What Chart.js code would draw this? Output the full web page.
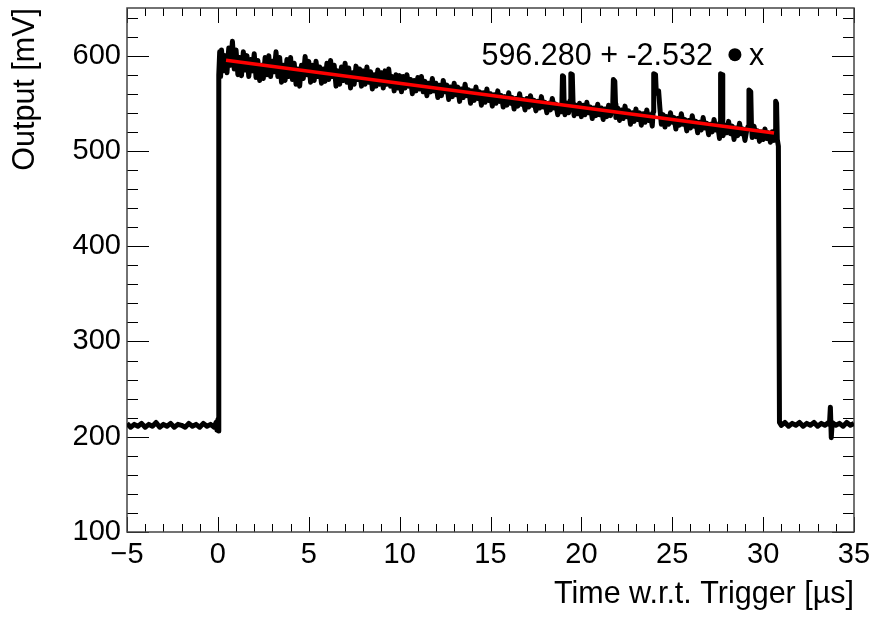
<!DOCTYPE html>
<html>
<head>
<meta charset="utf-8">
<script src="https://cdn.jsdelivr.net/npm/chart.js@4.4.0/dist/chart.umd.min.js"></script>
<style>
  html, body { margin: 0; padding: 0; background: #fff; }
</style>
</head>
<body>
<canvas id="scope" width="875" height="624"></canvas>
<script>
// axis ticks
const xTicks = [-5, 0, 5, 10, 15, 20, 25, 30, 35];
const yTicks = [100, 200, 300, 400, 500, 600];
const xMinorStep = 1;
const yMinorStep = 20;

// baseline before the trigger (time in us, output in mV)
const timeBefore = [-5, -4.8, -4.6, -4.4, -4.2, -4.0, -3.8, -3.6, -3.4, -3.2, -3.0, -2.8, -2.6,
  -2.4, -2.2, -2.0, -1.8, -1.6, -1.4, -1.2, -1.0, -0.8, -0.6, -0.4, -0.2, -0.1, -0.05, 0, 0.02, 0.04];
const voltBefore = [214, 210, 213, 211, 214, 210, 213, 211, 215, 210, 213, 211, 214,
  210, 213, 212, 210, 214, 211, 213, 210, 214, 211, 213, 210, 215, 207, 218, 206, 224];

// the pulse itself
const timePulse = [0.06, 0.1, 0.15,
  0.2, 0.3, 0.4, 0.5, 0.6, 0.7, 0.8, 0.9, 1.0,
  1.1, 1.2, 1.3, 1.4, 1.5, 1.6, 1.7, 1.8, 1.9, 2.0,
  2.1, 2.2, 2.3, 2.4, 2.5, 2.6, 2.7, 2.8, 2.9, 3.0,
  3.1, 3.2, 3.3, 3.4, 3.5, 3.6, 3.7, 3.8, 3.9, 4.0,
  4.1, 4.2, 4.3, 4.4, 4.5, 4.6, 4.7, 4.8, 4.9, 5.0,
  5.1, 5.2, 5.3, 5.4, 5.5, 5.6, 5.7, 5.8, 5.9, 6.0,
  6.1, 6.2, 6.3, 6.4, 6.5, 6.6, 6.7, 6.8, 6.9, 7.0,
  7.1, 7.2, 7.3, 7.4, 7.5, 7.6, 7.7, 7.8, 7.9, 8.0,
  8.1, 8.2, 8.3, 8.4, 8.5, 8.6, 8.7, 8.8, 8.9, 9.0,
  9.1, 9.2, 9.3, 9.4, 9.5, 9.6, 9.7, 9.8, 9.9, 10.0,
  10.1, 10.2, 10.3, 10.4, 10.5, 10.6, 10.7, 10.8, 10.9, 11.0,
  11.1, 11.2, 11.3, 11.4, 11.5, 11.6, 11.7, 11.8, 11.9, 12.0,
  12.1, 12.2, 12.3, 12.4, 12.5, 12.6, 12.7, 12.8, 12.9, 13.0,
  13.1, 13.2, 13.3, 13.4, 13.5, 13.6, 13.7, 13.8, 13.9, 14.0,
  14.1, 14.2, 14.3, 14.4, 14.5, 14.6, 14.7, 14.8, 14.9, 15.0,
  15.1, 15.2, 15.3, 15.4, 15.5, 15.6, 15.7, 15.8, 15.9, 16.0,
  16.1, 16.2, 16.3, 16.4, 16.5, 16.6, 16.7, 16.8, 16.9, 17.0,
  17.1, 17.2, 17.3, 17.4, 17.5, 17.6, 17.7, 17.8, 17.9, 18.0,
  18.1, 18.2, 18.3, 18.4, 18.5, 18.6, 18.7, 18.8, 18.9,
  18.93, 18.96, 19.02, 19.05,
  19.1, 19.2, 19.3, 19.38, 19.42, 19.5, 19.54, 19.6, 19.7, 19.8, 19.9, 20.0,
  20.1, 20.2, 20.3, 20.4, 20.5, 20.6, 20.7, 20.8, 20.9, 21.0,
  21.1, 21.2, 21.3, 21.4, 21.5, 21.6, 21.7, 21.73, 21.76, 21.84, 21.88, 21.9, 22.0,
  22.1, 22.2, 22.3, 22.4, 22.5, 22.6, 22.7, 22.8, 22.9, 23.0,
  23.1, 23.2, 23.3, 23.4, 23.5, 23.6, 23.7, 23.8, 23.9,
  23.95, 23.98, 24.08, 24.12, 24.2, 24.25, 24.32,
  24.4, 24.5, 24.6, 24.7, 24.8, 24.9, 25.0,
  25.1, 25.2, 25.3, 25.4, 25.5, 25.6, 25.7, 25.8, 25.9, 26.0,
  26.1, 26.2, 26.3, 26.4, 26.5, 26.6, 26.7, 26.8, 26.9, 27.0,
  27.1, 27.2, 27.3, 27.4, 27.5, 27.6, 27.63, 27.66, 27.74, 27.78, 27.8, 27.9, 28.0,
  28.1, 28.2, 28.3, 28.4, 28.5, 28.6, 28.7, 28.8, 28.9, 29.0,
  29.1, 29.18, 29.22, 29.32, 29.36, 29.4, 29.5, 29.6, 29.7, 29.8, 29.9, 30.0,
  30.1, 30.2, 30.3, 30.4, 30.5, 30.6, 30.66, 30.69, 30.74, 30.78, 30.84];
const voltPulse = [580, 604, 578,
  606, 584, 600, 582, 608, 590, 615, 586, 606,
  580, 598, 579, 604, 585, 600, 578, 596, 584, 602,
  577, 595, 574, 590, 576, 598, 580, 600, 578, 594,
  583, 604, 578, 598, 572, 590, 574, 596, 578, 598,
  575, 592, 570, 586, 568, 590, 576, 599, 580, 594,
  572, 590, 574, 594, 578, 588, 571, 586, 573, 592,
  575, 595, 578, 590, 568, 584, 570, 588, 574, 592,
  572, 587, 566, 582, 570, 589, 575, 586, 568, 584,
  570, 588, 572, 583, 565, 580, 568, 585, 570, 582,
  566, 584, 570, 586, 568, 578, 563, 580, 566, 579,
  562, 578, 566, 580, 568, 575, 560, 574, 563, 577,
  565, 578, 562, 573, 558, 571, 562, 576, 563, 571,
  556, 569, 558, 574, 562, 569, 554, 567, 557, 571,
  559, 567, 552, 565, 556, 570, 558, 564, 550, 563,
  553, 567, 555, 562, 548, 561, 551, 565, 553, 560,
  547, 559, 550, 563, 552, 558, 546, 557, 548, 561,
  550, 556, 544, 555, 547, 560, 549, 554, 543, 555,
  546, 558, 548, 553, 542, 552, 545, 557, 546, 551,
  540, 550, 543, 555, 545, 549, 538, 548, 541,
  552, 579, 578, 550,
  538, 550, 540, 553, 581, 580, 552, 537, 548, 539, 550, 536,
  548, 538, 551, 540, 546, 534, 545, 537, 549, 538,
  545, 533, 544, 536, 548, 537, 546, 552, 575, 573, 549, 535, 545,
  532, 543, 534, 547, 536, 542, 528, 540, 531, 544,
  533, 540, 527, 539, 530, 543, 532, 538, 526,
  541, 581, 580, 562, 560, 563, 545,
  528, 538, 525, 536, 528, 540, 530,
  535, 523, 534, 527, 539, 528, 533, 521, 532, 524,
  537, 526, 531, 519, 530, 522, 535, 524, 529, 517,
  528, 520, 533, 522, 527, 513, 530, 581, 580, 527, 516, 527, 519,
  531, 518, 526, 512, 524, 516, 529, 518, 523, 511,
  522, 526, 564, 562, 525, 514, 526, 515, 521, 510, 520, 512,
  523, 513, 519, 509, 520, 511, 522, 552, 550, 512, 505];

// baseline after the pulse
const timeAfter = [30.9, 31.0, 31.2, 31.4, 31.6, 31.8, 32.0, 32.2, 32.4, 32.6, 32.8, 33.0, 33.2,
  33.4, 33.6, 33.65, 33.7, 33.75, 33.8, 34.0, 34.2, 34.4, 34.6, 34.8, 35.0];
const voltAfter = [215, 212, 215, 211, 214, 212, 215, 211, 214, 212, 215, 211, 214,
  212, 215, 213, 231, 199, 215, 212, 214, 211, 215, 212, 214];

// linear fit drawn over the flat top
const fitTime = [0.45, 30.6];
const fitVolt = [595.1, 518.8];
const fitP0 = 596.280;
const fitP1 = -2.532;
const fitLabelAt = [14.5, 590.5];

const FONT = '"Liberation Sans", Arial, Helvetica, sans-serif';

function toPoints(ts, vs) {
    return ts.map((t, i) => ({ x: t, y: vs[i] }));
}

const tracePoints = [].concat(
    toPoints(timeBefore, voltBefore),
    toPoints(timePulse, voltPulse),
    toPoints(timeAfter, voltAfter)
);

// ROOT style frame with inward ticks on all four sides
const rootFrame = {
    id: 'rootFrame',
    beforeDatasetsDraw(chart) {
        const { ctx, chartArea: a, scales: { x, y } } = chart;
        ctx.save();
        ctx.strokeStyle = '#000';
        ctx.lineWidth = 1;
        ctx.beginPath();
        for (let t = x.min; t <= x.max + 1e-9; t += xMinorStep) {
            const px = Math.round(x.getPixelForValue(t)) + 0.5;
            const len = xTicks.includes(t) ? 15 : 8;
            ctx.moveTo(px, a.bottom); ctx.lineTo(px, a.bottom - len);
            ctx.moveTo(px, a.top); ctx.lineTo(px, a.top + len);
        }
        for (let v = y.min; v <= y.max + 1e-9; v += yMinorStep) {
            const py = Math.round(y.getPixelForValue(v)) + 0.5;
            const len = yTicks.includes(v) ? 22 : 11;
            ctx.moveTo(a.left, py); ctx.lineTo(a.left + len, py);
            ctx.moveTo(a.right, py); ctx.lineTo(a.right - len, py);
        }
        ctx.stroke();
        ctx.strokeStyle = '#444';
        ctx.lineWidth = 1.5;
        ctx.strokeRect(a.left, a.top, a.right - a.left, a.bottom - a.top);
        ctx.restore();
    }
};

// fit result text
const fitLabel = {
    id: 'fitLabel',
    afterDatasetsDraw(chart) {
        const { ctx, scales: { x, y } } = chart;
        const px = x.getPixelForValue(fitLabelAt[0]);
        const py = y.getPixelForValue(fitLabelAt[1]);
        const head = fitP0.toFixed(3) + ' + ' + fitP1.toFixed(3);
        ctx.save();
        ctx.font = '30.5px ' + FONT;
        ctx.fillStyle = '#000';
        ctx.textBaseline = 'alphabetic';
        ctx.fillText(head, px, py);
        const w = ctx.measureText(head).width;
        ctx.beginPath();
        ctx.arc(px + w + 22, py - 10, 6.5, 0, 2 * Math.PI);
        ctx.fill();
        ctx.fillText('x', px + w + 36, py);
        ctx.restore();
    }
};

const ctx = document.getElementById('scope').getContext('2d');
new Chart(ctx, {
    type: 'scatter',
    data: {
        datasets: [{
            label: 'fit',
            data: toPoints(fitTime, fitVolt),
            showLine: true,
            borderColor: '#ff0000',
            borderWidth: 3.5,
            pointRadius: 0,
            order: 0
        }, {
            label: 'trace',
            data: tracePoints,
            showLine: true,
            borderColor: '#000000',
            borderWidth: 5,
            borderJoinStyle: 'round',
            pointRadius: 0,
            order: 1
        }]
    },
    options: {
        responsive: false,
        animation: false,
        layout: { padding: { left: 0, top: 8, right: 21, bottom: 0 } },
        plugins: {
            legend: { display: false },
            tooltip: { enabled: false }
        },
        scales: {
            x: {
                type: 'linear',
                min: -5,
                max: 35,
                grid: { display: false, drawTicks: false },
                border: { display: false },
                afterBuildTicks: s => { s.ticks = xTicks.map(v => ({ value: v })); },
                afterFit: s => { s.height = 92; s.paddingLeft = 0; s.paddingRight = 0; },
                ticks: {
                    color: '#000',
                    font: { family: FONT, size: 29 },
                    padding: 6,
                    maxRotation: 0,
                    autoSkip: false,
                    callback: v => String(v).replace('-', '\u2212')
                },
                title: {
                    display: true,
                    text: 'Time w.r.t. Trigger [\u00b5s]',
                    align: 'end',
                    color: '#000',
                    font: { family: FONT, size: 30.5 },
                    padding: { top: 0, bottom: 11 }
                }
            },
            y: {
                type: 'linear',
                min: 100,
                max: 650,
                grid: { display: false, drawTicks: false },
                border: { display: false },
                afterBuildTicks: s => { s.ticks = yTicks.map(v => ({ value: v })); },
                afterFit: s => { s.width = 127; s.paddingTop = 0; s.paddingBottom = 0; },
                ticks: {
                    color: '#000',
                    font: { family: FONT, size: 29 },
                    padding: 6,
                    autoSkip: false
                },
                title: {
                    display: true,
                    text: 'Output [mV]',
                    align: 'end',
                    color: '#000',
                    font: { family: FONT, size: 30.5 },
                    padding: { top: 7, bottom: 0 }
                }
            }
        }
    },
    plugins: [rootFrame, fitLabel]
});
</script>
</body>
</html>
